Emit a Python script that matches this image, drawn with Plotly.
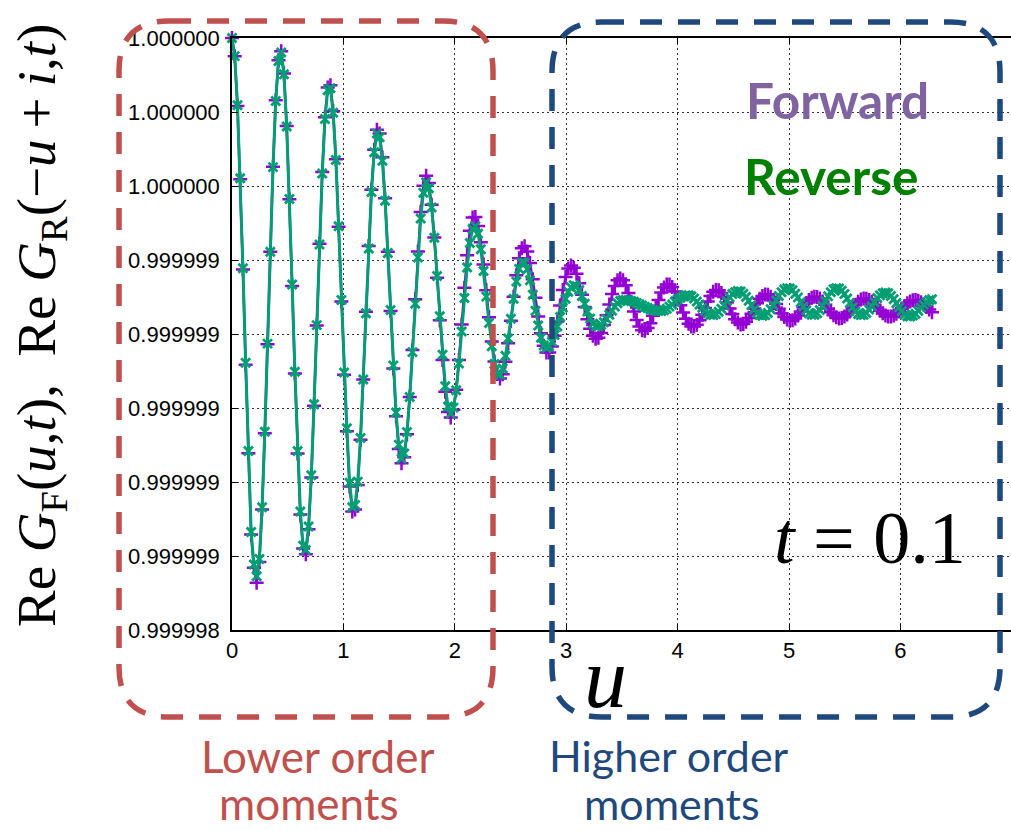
import numpy as np
import plotly.graph_objects as go

# Sampling grid in u: 257 equally spaced points on [0, 2*pi]
U_START, U_END, N_POINTS = 0.0, 2 * np.pi, 257

# Re G - 1, in units of 1e-7, forward evaluation G_F(u, t)
FORWARD_OFFSET_E7 = [
    0.00, -0.49, -1.84, -3.82, -6.26, -8.83, -11.22, -13.42, -14.32, -14.72,
    -14.16, -12.74, -10.68, -8.28, -5.78, -3.48, -1.68, -0.60, -0.36, -0.96,
    -2.38, -4.36, -6.70, -9.07, -11.23, -12.88, -13.80, -13.95, -13.28, -11.88,
    -9.94, -7.77, -5.56, -3.62, -2.14, -1.34, -1.28, -1.98, -3.28, -5.10,
    -7.12, -9.10, -10.63, -12.12, -12.80, -12.74, -12.08, -10.86, -9.23, -7.40,
    -5.62, -4.10, -3.02, -2.48, -2.58, -3.22, -4.33, -5.78, -7.38, -8.93,
    -10.22, -11.11, -11.49, -11.33, -10.71, -9.70, -8.43, -7.06, -5.77, -4.70,
    -3.99, -3.72, -3.92, -4.51, -5.39, -6.48, -7.63, -8.70, -9.56, -10.11,
    -10.26, -10.05, -9.51, -8.70, -7.74, -6.75, -5.87, -5.21, -4.85, -4.84,
    -5.08, -5.52, -6.12, -6.82, -7.55, -8.20, -8.74, -9.08, -9.20, -9.09,
    -8.75, -8.25, -7.64, -6.99, -6.41, -5.95, -5.68, -5.63, -5.77, -6.08,
    -6.52, -7.02, -7.53, -7.98, -8.32, -8.50, -8.50, -8.34, -8.05, -7.66,
    -7.23, -6.81, -6.46, -6.23, -6.15, -6.21, -6.37, -6.63, -6.94, -7.27,
    -7.60, -7.86, -8.05, -8.13, -8.10, -7.97, -7.76, -7.49, -7.20, -6.92,
    -6.70, -6.55, -6.50, -6.55, -6.68, -6.89, -7.13, -7.39, -7.62, -7.80,
    -7.90, -7.91, -7.84, -7.71, -7.51, -7.30, -7.08, -6.88, -6.74, -6.66,
    -6.66, -6.73, -6.85, -7.02, -7.22, -7.42, -7.59, -7.72, -7.80, -7.80,
    -7.75, -7.63, -7.48, -7.30, -7.12, -6.97, -6.86, -6.81, -6.82, -6.89,
    -7.00, -7.15, -7.31, -7.46, -7.60, -7.69, -7.74, -7.73, -7.67, -7.57,
    -7.45, -7.31, -7.17, -7.05, -6.97, -6.93, -6.94, -6.99, -7.08, -7.19,
    -7.32, -7.44, -7.54, -7.61, -7.64, -7.63, -7.58, -7.50, -7.39, -7.28,
    -7.17, -7.08, -7.02, -6.99, -7.00, -7.04, -7.12, -7.21, -7.31, -7.41,
    -7.49, -7.55, -7.58, -7.57, -7.53, -7.47, -7.39, -7.30, -7.21, -7.13,
    -7.07, -7.04, -7.05, -7.08, -7.13, -7.21, -7.29, -7.37, -7.44, -7.50,
    -7.53, -7.53, -7.50, -7.45, -7.39, -7.31, -7.24, -7.17, -7.12, -7.09,
    -7.08, -7.10, -7.14, -7.20, -7.27, -7.34, -7.41,
]

# Re G - 1, in units of 1e-7, reverse evaluation G_R(-u + i, t)
REVERSE_OFFSET_E7 = [
    0.00, -0.49, -1.82, -3.79, -6.22, -8.78, -11.16, -13.35, -14.23, -14.55,
    -14.08, -12.68, -10.64, -8.26, -5.78, -3.49, -1.70, -0.62, -0.39, -0.98,
    -2.39, -4.35, -6.66, -9.02, -11.16, -12.80, -13.72, -13.84, -13.20, -11.82,
    -9.90, -7.76, -5.58, -3.66, -2.19, -1.41, -1.36, -2.02, -3.30, -5.09,
    -7.08, -9.04, -10.55, -12.02, -12.68, -12.62, -11.99, -10.81, -9.23, -7.44,
    -5.69, -4.16, -3.09, -2.58, -2.68, -3.32, -4.40, -5.81, -7.35, -8.85,
    -10.12, -10.99, -11.37, -11.23, -10.65, -9.70, -8.49, -7.18, -5.93, -4.88,
    -4.18, -3.90, -4.06, -4.58, -5.40, -6.43, -7.52, -8.56, -9.41, -9.96,
    -10.15, -9.99, -9.52, -8.80, -7.93, -7.03, -6.20, -5.54, -5.16, -5.09,
    -5.29, -5.71, -6.30, -6.99, -7.70, -8.33, -8.81, -9.08, -9.10, -8.93,
    -8.59, -8.12, -7.59, -7.05, -6.58, -6.24, -6.07, -6.08, -6.25, -6.55,
    -6.94, -7.37, -7.77, -8.10, -8.31, -8.38, -8.33, -8.21, -8.03, -7.80,
    -7.54, -7.29, -7.05, -6.86, -6.74, -6.68, -6.71, -6.81, -6.97, -7.18,
    -7.39, -7.58, -7.72, -7.79, -7.79, -7.75, -7.68, -7.59, -7.48, -7.37,
    -7.26, -7.17, -7.11, -7.08, -7.08, -7.09, -7.11, -7.13, -7.16, -7.20,
    -7.23, -7.27, -7.30, -7.33, -7.35, -7.37, -7.38, -7.38, -7.36, -7.32,
    -7.26, -7.20, -7.13, -7.07, -7.02, -6.98, -6.95, -6.95, -6.98, -7.04,
    -7.12, -7.20, -7.29, -7.37, -7.44, -7.48, -7.49, -7.46, -7.40, -7.32,
    -7.22, -7.11, -7.01, -6.92, -6.87, -6.84, -6.85, -6.91, -7.00, -7.10,
    -7.22, -7.34, -7.43, -7.49, -7.51, -7.49, -7.43, -7.33, -7.22, -7.09,
    -6.97, -6.87, -6.80, -6.76, -6.77, -6.82, -6.91, -7.01, -7.14, -7.26,
    -7.36, -7.44, -7.48, -7.48, -7.44, -7.35, -7.24, -7.11, -6.98, -6.87,
    -6.79, -6.76, -6.77, -6.83, -6.92, -7.04, -7.16, -7.28, -7.39, -7.46,
    -7.49, -7.48, -7.43, -7.34, -7.25, -7.14, -7.03, -6.95, -6.90, -6.88,
    -6.90, -6.97, -7.06, -7.17, -7.28, -7.38, -7.47, -7.52, -7.53, -7.50,
    -7.45, -7.37, -7.29, -7.21, -7.14, -7.09, -7.06,
]

# Axis ticks
X_TICKS = [0, 1, 2, 3, 4, 5, 6, 7]
Y_TICKS = [0.9999984, 0.9999986, 0.9999988, 0.9999990, 0.9999992,
           0.9999994, 0.9999996, 0.9999998, 1.0000000]
Y_TICK_TEXT = ["0.999998", "0.999999", "0.999999", "0.999999", "0.999999",
               "0.999999", "1.000000", "1.000000", "1.000000"]

u = np.linspace(U_START, U_END, N_POINTS)
forward = 1.0 + np.array(FORWARD_OFFSET_E7) * 1e-7
reverse = 1.0 + np.array(REVERSE_OFFSET_E7) * 1e-7

W, H = 1011, 831
L, T, R, B = 232, 38, 0, 201
PW, PH = W - L - R, H - T - B
X_PER_UNIT = 111.4


def px(x):
    return (x - L) / PW


def py(y):
    return (T + PH - y) / PH


def rounded_rect(x0, y0, x1, y1, r):
    a, b, c, d = px(x0), py(y0), px(x1), py(y1)
    rx, ry = r / PW, r / PH
    return (f"M {a+rx},{b} L {c-rx},{b} Q {c},{b} {c},{b-ry} "
            f"L {c},{d+ry} Q {c},{d} {c-rx},{d} L {a+rx},{d} "
            f"Q {a},{d} {a},{d+ry} L {a},{b-ry} Q {a},{b} {a+rx},{b} Z")


PURPLE = "#9400D3"
TEAL = "#009E73"
RED = "#C0504D"
NAVY = "#1F497D"

fig = go.Figure()
fig.add_trace(go.Scatter(
    x=u, y=forward, mode="lines+markers", name="Forward",
    line=dict(color=PURPLE, width=2.5),
    marker=dict(symbol="cross-thin", size=10, color=PURPLE,
                line=dict(color=PURPLE, width=2.5)),
    cliponaxis=False,
))
fig.add_trace(go.Scatter(
    x=u, y=reverse, mode="lines+markers", name="Reverse",
    line=dict(color=TEAL, width=3),
    marker=dict(symbol="x-thin", size=9, color=TEAL,
                line=dict(color=TEAL, width=2.8)),
    cliponaxis=False,
))

tick_font = dict(family="Liberation Sans, Arial, sans-serif", size=22, color="black")
grid = dict(showgrid=True, gridcolor="#333333", gridwidth=1, griddash="2px,3px")

fig.update_xaxes(
    range=[0, PW / X_PER_UNIT], tickvals=X_TICKS, tickfont=tick_font,
    showline=True, linecolor="black", linewidth=1.5, mirror="ticks",
    ticks="inside", ticklen=6, tickwidth=1.2, tickcolor="black",
    zeroline=False, **grid,
)
fig.update_yaxes(
    range=[Y_TICKS[0], Y_TICKS[-1]], tickvals=Y_TICKS, ticktext=Y_TICK_TEXT,
    tickfont=tick_font, showline=True, linecolor="black", linewidth=1.5,
    mirror=False, ticks="inside", ticklen=6, tickwidth=1.2, tickcolor="black",
    ticklabelstandoff=6, zeroline=False, **grid,
)

serif = "Liberation Serif, Times New Roman, serif"
sans = "Lato, Open Sans, sans-serif"
NB = "\u00a0"
THIN = "\u2009"

annotations = [
    dict(x=px(40), y=py(326), textangle=-90,
         text=(f"Re{NB}<i>G</i><sub>F</sub>(<i>u</i>,<i>t</i>),{NB}{NB}"
               f"Re{NB}<i>G</i><sub>R</sub>(−<i>u</i>{THIN}+{THIN}<i>i</i>,<i>t</i>)"),
         font=dict(family=serif, size=55, color="black")),
    dict(x=px(837), y=py(100), text="<b>Forward</b>",
         font=dict(family=sans, size=49.5, color="#8064A2")),
    dict(x=px(831), y=py(176), text="<b>Reverse</b>",
         font=dict(family=sans, size=49.5, color="#008000")),
    dict(x=px(870), y=py(538), text=f"<i>t</i>{NB}={NB}0.1",
         font=dict(family=serif, size=74, color="black")),
    dict(x=px(605), y=py(678), text="<i>u</i>",
         font=dict(family=serif, size=86, color="black")),
    dict(x=px(317), y=py(756), text="Lower order",
         font=dict(family=sans, size=44, color=RED)),
    dict(x=px(309), y=py(803), text="moments",
         font=dict(family=sans, size=44, color=RED)),
    dict(x=px(669), y=py(756), text="Higher order",
         font=dict(family=sans, size=43, color=NAVY)),
    dict(x=px(672), y=py(803), text="moments",
         font=dict(family=sans, size=43, color=NAVY)),
]
for a in annotations:
    a.update(xref="paper", yref="paper", xanchor="center", yanchor="middle",
             showarrow=False)

shapes = [
    dict(type="path", xref="paper", yref="paper", layer="above",
         path=rounded_rect(119, 21, 493, 717, 50),
         line=dict(color=RED, width=5.5, dash="22px,16px")),
    dict(type="path", xref="paper", yref="paper", layer="above",
         path=rounded_rect(552, 22, 1000, 717, 50),
         line=dict(color=NAVY, width=5.5, dash="22px,16px")),
]

fig.update_layout(
    width=W, height=H, margin=dict(l=L, r=R, t=T, b=B),
    paper_bgcolor="white", plot_bgcolor="white",
    showlegend=False, annotations=annotations, shapes=shapes,
)

fig.write_html("out.html")
